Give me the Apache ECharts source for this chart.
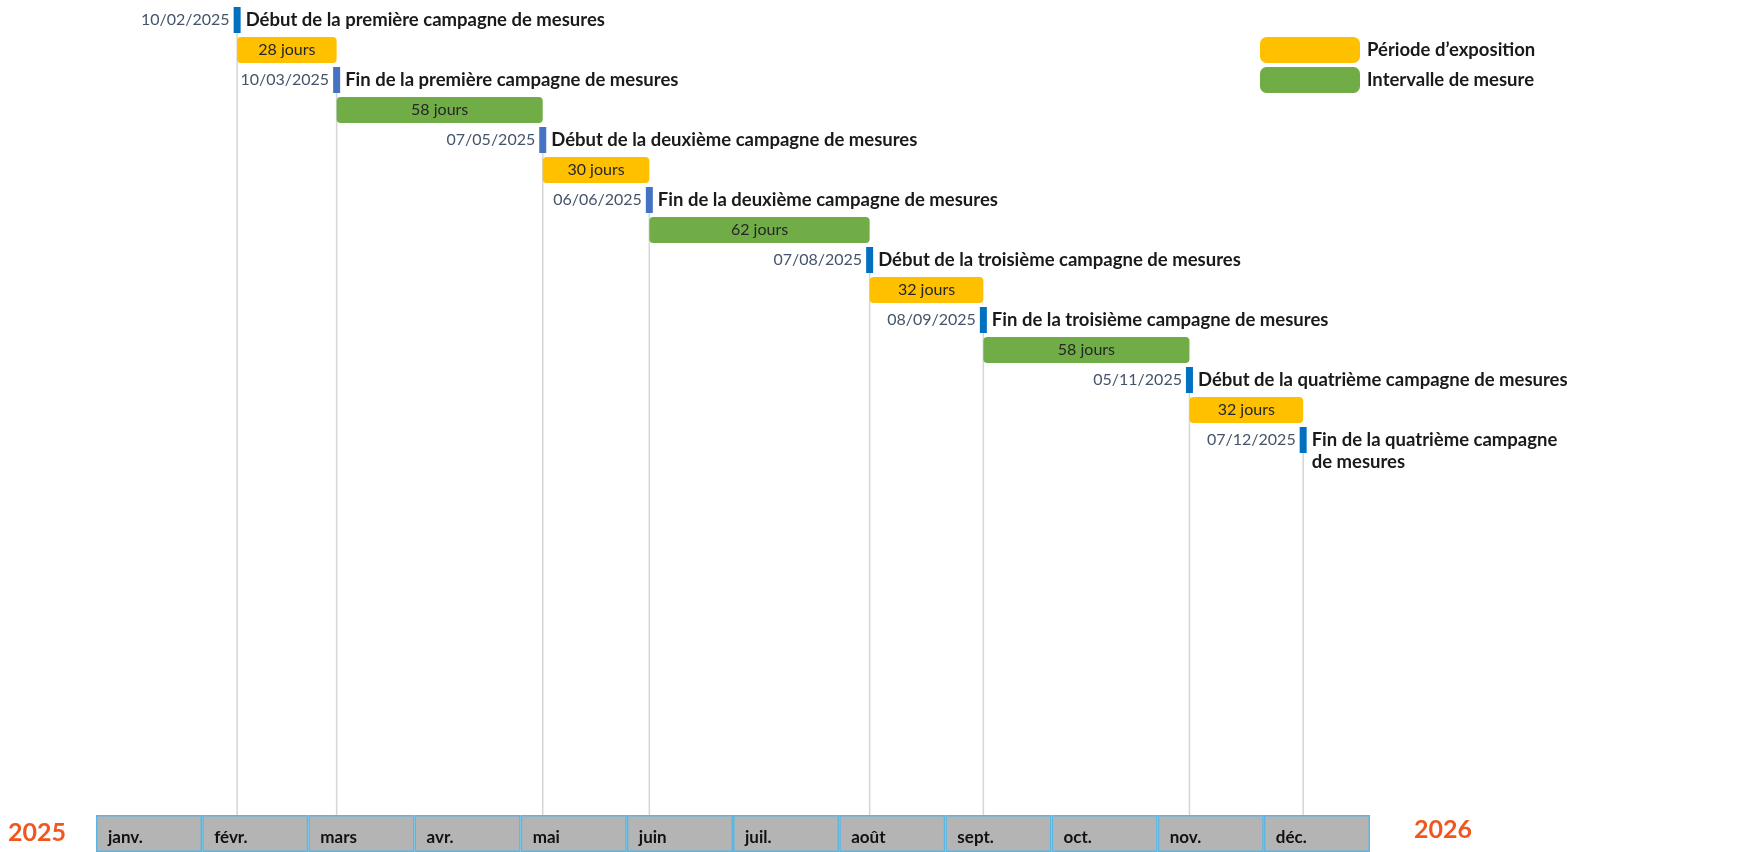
<!DOCTYPE html>
<html>
<head>
<meta charset="utf-8">
<script src="https://cdn.jsdelivr.net/npm/echarts@6/dist/echarts.min.js"></script>
<style>html,body{margin:0;padding:0;background:#fff}#c{width:1749px;height:852px}</style>
</head>
<body>
<div id="c"></div>
<script>
// ---- Data ----
const months = ['janv.','févr.','mars','avr.','mai','juin','juil.','août','sept.','oct.','nov.','déc.'];
const milestoneDates = ['2025-02-10','2025-03-10','2025-05-07','2025-06-06','2025-08-07','2025-09-08','2025-11-05','2025-12-07'];
const milestoneDateLabels = ['10/02/2025','10/03/2025','07/05/2025','06/06/2025','07/08/2025','08/09/2025','05/11/2025','07/12/2025'];
const milestoneTexts = [
  'Début de la première campagne de mesures',
  'Fin de la première campagne de mesures',
  'Début de la deuxième campagne de mesures',
  'Fin de la deuxième campagne de mesures',
  'Début de la troisième campagne de mesures',
  'Fin de la troisième campagne de mesures',
  'Début de la quatrième campagne de mesures',
  'Fin de la quatrième campagne\nde mesures'
];
const exposureDays = [28, 30, 32, 32];   // Période d'exposition
const intervalDays = [58, 62, 58];       // Intervalle de mesure
const yearStart = '2025';
const yearEnd = '2026';

// ---- Styles ----
const markerColors = ['#0070C0','#4472C4','#4472C4','#4472C4','#0070C0','#0070C0','#0070C0','#0070C0'];
const YELLOW = '#FFC000', GREEN = '#70AD47';
const FONT = 'Lato';

function ts(s){ const p = s.split('-').map(Number); return new Date(p[0], p[1]-1, p[2]).getTime(); }

const milestoneData = milestoneDates.map((d,i)=>[ts(d), 2*i + 0.5, i]);
const exposureData = exposureDays.map((n,k)=>[ts(milestoneDates[2*k]), ts(milestoneDates[2*k+1]), 4*k + 1.5, n]);
const intervalData = intervalDays.map((n,k)=>[ts(milestoneDates[2*k+1]), ts(milestoneDates[2*k+2]), 4*k + 3.5, n]);

function barRender(color){
  return function(params, api){
    const s = api.coord([api.value(0), api.value(2)]);
    const e = api.coord([api.value(1), api.value(2)]);
    const h = 26;
    return {
      type:'rect',
      shape:{x:s[0], y:s[1]-h/2, width:e[0]-s[0], height:h, r:4},
      style:{fill:color},
      textContent:{style:{text: api.value(3)+' jours', fill:'#262626', font:'16px '+FONT}},
      textConfig:{position:'inside'}
    };
  };
}

const chart = echarts.init(document.getElementById('c'));
chart.setOption({
  animation:false,
  backgroundColor:'#fff',
  grid:[
    {left:95, right:357, top:5, bottom:37},
    {left:96, right:379, top:815, height:45}
  ],
  xAxis:[
    {type:'time', gridIndex:0, min:ts('2025-01-01'), max:ts('2026-01-01'), show:false},
    {type:'category', gridIndex:1, data:months, show:false}
  ],
  yAxis:[
    {type:'value', gridIndex:0, min:0, max:27, inverse:true, show:false},
    {type:'value', gridIndex:1, min:0, max:1, show:false}
  ],
  legend:{
    orient:'vertical', left:1260, top:37, padding:0, itemWidth:100, itemHeight:26, itemGap:4,
    icon:'roundRect', data:['Période d’exposition','Intervalle de mesure'],
    textStyle:{fontFamily:FONT, fontWeight:'bold', fontSize:18.5, color:'#1a1a1a', padding:[0,0,0,2]},
    selectedMode:false
  },
  graphic:[
    {type:'text', left:8, top:820, style:{text:yearStart, fill:'#F0561E', font:'bold 25px '+FONT}},
    {type:'text', left:1414, top:817, style:{text:yearEnd, fill:'#F0561E', font:'bold 25px '+FONT}}
  ],
  series:[
    {
      type:'custom', name:'lines', xAxisIndex:0, yAxisIndex:0, z:1, silent:true,
      data: milestoneData,
      renderItem:function(params, api){
        const p = api.coord([api.value(0), api.value(1)]);
        const bottom = params.coordSys.y + params.coordSys.height;
        return {type:'line', shape:{x1:p[0], y1:p[1], x2:p[0], y2:bottom}, style:{stroke:'#D6D6D6', lineWidth:1.5}};
      }
    },
    {
      type:'custom', name:'Période d’exposition', xAxisIndex:0, yAxisIndex:0, z:3,
      itemStyle:{color:YELLOW}, data: exposureData, renderItem: barRender(YELLOW)
    },
    {
      type:'custom', name:'Intervalle de mesure', xAxisIndex:0, yAxisIndex:0, z:3,
      itemStyle:{color:GREEN}, data: intervalData, renderItem: barRender(GREEN)
    },
    {
      type:'custom', name:'milestones', xAxisIndex:0, yAxisIndex:0, z:4,
      data: milestoneData,
      renderItem:function(params, api){
        const p = api.coord([api.value(0), api.value(1)]);
        const i = api.value(2);
        const h = 26, w = 7;
        return {type:'group', children:[
          {type:'rect', shape:{x:p[0]-w/2, y:p[1]-h/2, width:w, height:h}, style:{fill:markerColors[i]}},
          {type:'text', x:p[0]-w/2-4, y:p[1], style:{text:milestoneDateLabels[i], fill:'#44546A', font:'16px '+FONT, align:'right', verticalAlign:'middle'}},
          {type:'text', x:p[0]+w/2+5, y:p[1]-11, style:{text:milestoneTexts[i], fill:'#1a1a1a', font:'bold 18.5px '+FONT, align:'left', verticalAlign:'top', lineHeight:22}}
        ]};
      }
    },
    {
      type:'bar', name:'months', xAxisIndex:1, yAxisIndex:1, barWidth:'100%', silent:true,
      data: months.map(()=>1),
      itemStyle:{color:'#B4B4B4', borderColor:'#5AB6E2', borderWidth:1.5},
      label:{show:true, position:'insideTopLeft', distance:0, offset:[12,14], formatter:(p)=>p.name,
             fontFamily:FONT, fontWeight:'bold', fontSize:17, color:'#111'}
    }
  ]
});
</script>
</body>
</html>
